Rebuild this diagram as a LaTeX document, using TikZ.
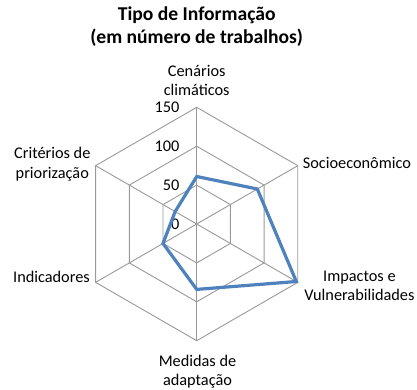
\documentclass[tikz,border=0pt]{standalone}
\usepackage{fontspec}
\setmainfont{Carlito}

\definecolor{serieazul}{HTML}{4F81BD}
\definecolor{cinzagrade}{HTML}{999999}

\tikzset{
  rotulo/.style={align=center, inner sep=0pt, font=\fontsize{16.3}{19.5}\selectfont},
  titulo/.style={align=center, inner sep=0pt, font=\fontsize{19.6}{23}\selectfont\bfseries},
  grade/.style={draw=cinzagrade, line width=0.9pt},
  serie/.style={draw=serieazul, line width=3.2pt}
}

\begin{document}
\begin{tikzpicture}[x=1pt, y=1pt]
  \useasboundingbox (-196.7,-165) rectangle (220.3,224);

  % Titulo do grafico
  \node[titulo] (titulo) at (0,197.5) {Tipo de Informação\\(em número de trabalhos)};

  % Grade hexagonal (50, 100, 150)
  \foreach \r in {38.9,77.8,116.7}
    \draw[grade] (90:\r) -- (30:\r) -- (-30:\r) -- (-90:\r) -- (210:\r) -- (150:\r) -- cycle;

  % Eixos
  \foreach \a in {90,30,-30,-90,210,150}
    \draw[grade] (0,0) -- (\a:116.7);

  % Escala
  \node[rotulo, anchor=east] (v0)   at (-17.2,0)     {0};
  \node[rotulo, anchor=east] (v50)  at (-17.2,38.9)  {50};
  \node[rotulo, anchor=east] (v100) at (-17.2,77.8)  {100};
  \node[rotulo, anchor=east] (v150) at (-17.2,116.7) {150};

  % Serie de dados
  \coordinate (p1) at (90:47.5);
  \coordinate (p2) at (30:70);
  \coordinate (p3) at (-30:115);
  \coordinate (p4) at (-90:65.4);
  \coordinate (p5) at (210:38.9);
  \coordinate (p6) at (150:24.9);
  \draw[serie] (p1) -- (p2) -- (p3) -- (p4) -- (p5) -- (p6) -- cycle;

  % Rotulos das categorias
  \node[rotulo] (cenarios) at (0,143.3) {Cenários\\climáticos};
  \node[rotulo, anchor=west] (socio) at (106,60.7) {Socioeconômico};
  \node[rotulo] (impactos) at (162.7,-61.9) {Impactos e\\Vulnerabilidades};
  \node[rotulo] (medidas) at (0.8,-147.5) {Medidas de\\adaptação};
  \node[rotulo, anchor=east] (indicadores) at (-106.7,-52.7) {Indicadores};
  \node[rotulo] (criterios) at (-144.4,59.9) {Critérios de\\priorização};
\end{tikzpicture}
\end{document}
